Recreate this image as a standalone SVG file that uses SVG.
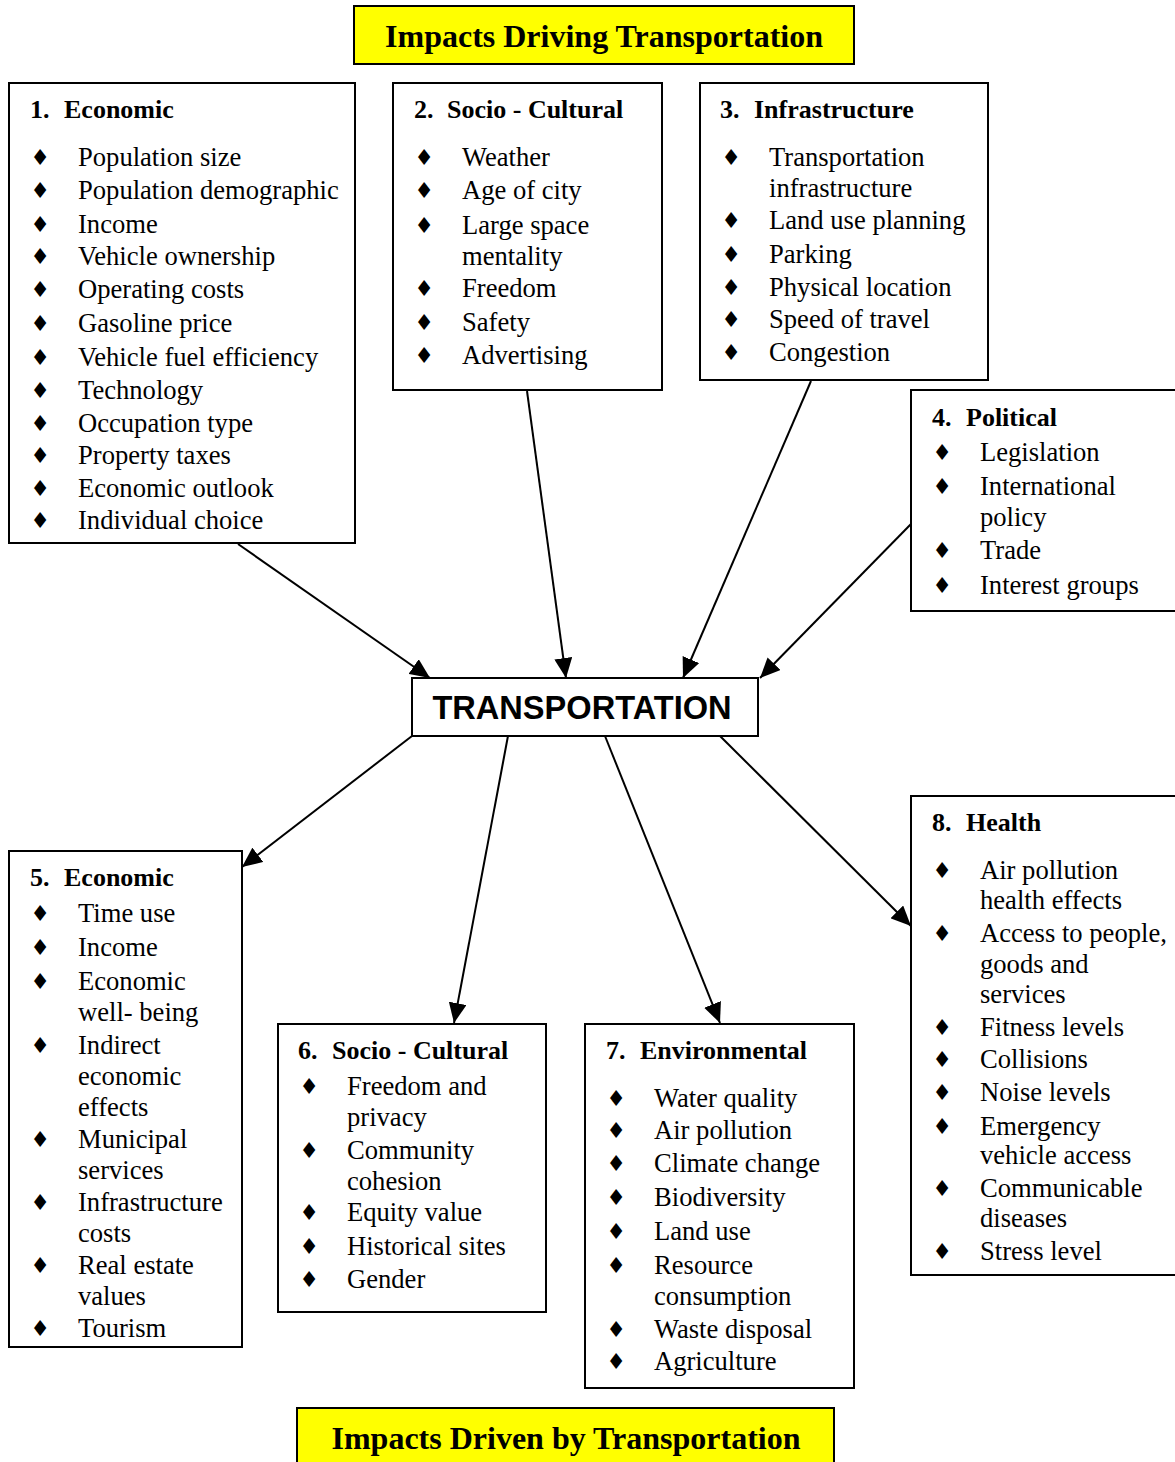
<svg xmlns="http://www.w3.org/2000/svg" width="1175" height="1462" viewBox="0 0 1175 1462">
<style>
.box{fill:#fff;stroke:#000;stroke-width:2}
.ybox{fill:#ffff00;stroke:#000;stroke-width:2}
.t{font-family:"Liberation Serif","Times New Roman",serif;font-size:26.6px;fill:#000}
.h{font-family:"Liberation Serif","Times New Roman",serif;font-size:26px;font-weight:bold;fill:#000}
.big{font-family:"Liberation Serif","Times New Roman",serif;font-size:32px;font-weight:bold;fill:#000;text-anchor:middle}
.tr{font-family:"Liberation Sans",Arial,sans-serif;font-size:32.6px;font-weight:bold;fill:#000;text-anchor:middle}
.b{font-family:"DejaVu Sans",sans-serif;font-size:22px;fill:#000;text-anchor:middle}
.c{stroke:#000;stroke-width:2;fill:none;marker-end:url(#ah)}
</style>
<defs>
<marker id="ah" markerUnits="userSpaceOnUse" markerWidth="22" markerHeight="18" refX="20" refY="9" orient="auto">
<path d="M0,0 L20,9 L0,18 Z" fill="#000"/>
</marker>
</defs>
<rect width="1175" height="1462" fill="#fff"/>

<g id="title-top">
<rect class="ybox" x="354" y="6" width="500" height="58"/>
<text class="big" x="604" y="47">Impacts Driving Transportation</text>
</g>

<g id="connectors">
<line class="c" x1="238" y1="544" x2="430" y2="678"/>
<line class="c" x1="527" y1="391" x2="566" y2="678"/>
<line class="c" x1="811" y1="381" x2="683" y2="678"/>
<line class="c" x1="911" y1="524" x2="760" y2="678"/>
<line class="c" x1="412" y1="736" x2="242" y2="867"/>
<line class="c" x1="508" y1="736" x2="454" y2="1023"/>
<line class="c" x1="605" y1="736" x2="720" y2="1023"/>
<line class="c" x1="720" y1="736" x2="911" y2="926"/>
</g>

<g id="box1">
<rect class="box" x="9" y="83" width="346" height="460"/>
<text class="h" x="30" y="118">1.</text><text class="h" x="64" y="118">Economic</text>
<text class="b" x="40" y="165">♦</text><text class="t" x="78" y="166">Population size</text>
<text class="b" x="40" y="198">♦</text><text class="t" x="78" y="199">Population demographic</text>
<text class="b" x="40" y="232">♦</text><text class="t" x="78" y="233">Income</text>
<text class="b" x="40" y="264">♦</text><text class="t" x="78" y="265">Vehicle ownership</text>
<text class="b" x="40" y="297">♦</text><text class="t" x="78" y="298">Operating costs</text>
<text class="b" x="40" y="331">♦</text><text class="t" x="78" y="332">Gasoline price</text>
<text class="b" x="40" y="365">♦</text><text class="t" x="78" y="366">Vehicle fuel efficiency</text>
<text class="b" x="40" y="398">♦</text><text class="t" x="78" y="399">Technology</text>
<text class="b" x="40" y="431">♦</text><text class="t" x="78" y="432">Occupation type</text>
<text class="b" x="40" y="463">♦</text><text class="t" x="78" y="464">Property taxes</text>
<text class="b" x="40" y="496">♦</text><text class="t" x="78" y="497">Economic outlook</text>
<text class="b" x="40" y="528">♦</text><text class="t" x="78" y="529">Individual choice</text>
</g>

<g id="box2">
<rect class="box" x="393" y="83" width="269" height="307"/>
<text class="h" x="414" y="118">2.</text><text class="h" x="447" y="118">Socio - Cultural</text>
<text class="b" x="424" y="165">♦</text><text class="t" x="462" y="166">Weather</text>
<text class="b" x="424" y="198">♦</text><text class="t" x="462" y="199">Age of city</text>
<text class="b" x="424" y="233">♦</text><text class="t" x="462" y="234">Large space</text>
<text class="t" x="462" y="265">mentality</text>
<text class="b" x="424" y="296">♦</text><text class="t" x="462" y="297">Freedom</text>
<text class="b" x="424" y="330">♦</text><text class="t" x="462" y="331">Safety</text>
<text class="b" x="424" y="363">♦</text><text class="t" x="462" y="364">Advertising</text>
</g>

<g id="box3">
<rect class="box" x="700" y="83" width="288" height="297"/>
<text class="h" x="720" y="118">3.</text><text class="h" x="754" y="118">Infrastructure</text>
<text class="b" x="731" y="165">♦</text><text class="t" x="769" y="166">Transportation</text>
<text class="t" x="769" y="197">infrastructure</text>
<text class="b" x="731" y="228">♦</text><text class="t" x="769" y="229">Land use planning</text>
<text class="b" x="731" y="262">♦</text><text class="t" x="769" y="263">Parking</text>
<text class="b" x="731" y="295">♦</text><text class="t" x="769" y="296">Physical location</text>
<text class="b" x="731" y="327">♦</text><text class="t" x="769" y="328">Speed of travel</text>
<text class="b" x="731" y="360">♦</text><text class="t" x="769" y="361">Congestion</text>
</g>

<g id="box4">
<rect class="box" x="911" y="390" width="270" height="221"/>
<text class="h" x="932" y="426">4.</text><text class="h" x="966" y="426">Political</text>
<text class="b" x="942" y="460">♦</text><text class="t" x="980" y="461">Legislation</text>
<text class="b" x="942" y="494">♦</text><text class="t" x="980" y="495">International</text>
<text class="t" x="980" y="526">policy</text>
<text class="b" x="942" y="558">♦</text><text class="t" x="980" y="559">Trade</text>
<text class="b" x="942" y="593">♦</text><text class="t" x="980" y="594">Interest groups</text>
</g>

<g id="transportation">
<rect class="box" x="412" y="678" width="346" height="58"/>
<text class="tr" x="582" y="719">TRANSPORTATION</text>
</g>

<g id="box5">
<rect class="box" x="9" y="851" width="233" height="496"/>
<text class="h" x="30" y="886">5.</text><text class="h" x="64" y="886">Economic</text>
<text class="b" x="40" y="921">♦</text><text class="t" x="78" y="922">Time use</text>
<text class="b" x="40" y="955">♦</text><text class="t" x="78" y="956">Income</text>
<text class="b" x="40" y="989">♦</text><text class="t" x="78" y="990">Economic</text>
<text class="t" x="78" y="1021">well- being</text>
<text class="b" x="40" y="1053">♦</text><text class="t" x="78" y="1054">Indirect</text>
<text class="t" x="78" y="1085">economic</text>
<text class="t" x="78" y="1116">effects</text>
<text class="b" x="40" y="1147">♦</text><text class="t" x="78" y="1148">Municipal</text>
<text class="t" x="78" y="1179">services</text>
<text class="b" x="40" y="1210">♦</text><text class="t" x="78" y="1211">Infrastructure</text>
<text class="t" x="78" y="1242">costs</text>
<text class="b" x="40" y="1273">♦</text><text class="t" x="78" y="1274">Real estate</text>
<text class="t" x="78" y="1305">values</text>
<text class="b" x="40" y="1336">♦</text><text class="t" x="78" y="1337">Tourism</text>
</g>

<g id="box6">
<rect class="box" x="278" y="1024" width="268" height="288"/>
<text class="h" x="298" y="1059">6.</text><text class="h" x="332" y="1059">Socio - Cultural</text>
<text class="b" x="309" y="1094">♦</text><text class="t" x="347" y="1095">Freedom and</text>
<text class="t" x="347" y="1126">privacy</text>
<text class="b" x="309" y="1158">♦</text><text class="t" x="347" y="1159">Community</text>
<text class="t" x="347" y="1190">cohesion</text>
<text class="b" x="309" y="1220">♦</text><text class="t" x="347" y="1221">Equity value</text>
<text class="b" x="309" y="1254">♦</text><text class="t" x="347" y="1255">Historical sites</text>
<text class="b" x="309" y="1287">♦</text><text class="t" x="347" y="1288">Gender</text>
</g>

<g id="box7">
<rect class="box" x="585" y="1024" width="269" height="364"/>
<text class="h" x="606" y="1059">7.</text><text class="h" x="640" y="1059">Environmental</text>
<text class="b" x="616" y="1106">♦</text><text class="t" x="654" y="1107">Water quality</text>
<text class="b" x="616" y="1138">♦</text><text class="t" x="654" y="1139">Air pollution</text>
<text class="b" x="616" y="1171">♦</text><text class="t" x="654" y="1172">Climate change</text>
<text class="b" x="616" y="1205">♦</text><text class="t" x="654" y="1206">Biodiversity</text>
<text class="b" x="616" y="1239">♦</text><text class="t" x="654" y="1240">Land use</text>
<text class="b" x="616" y="1273">♦</text><text class="t" x="654" y="1274">Resource</text>
<text class="t" x="654" y="1305">consumption</text>
<text class="b" x="616" y="1337">♦</text><text class="t" x="654" y="1338">Waste disposal</text>
<text class="b" x="616" y="1369">♦</text><text class="t" x="654" y="1370">Agriculture</text>
</g>

<g id="box8">
<rect class="box" x="911" y="796" width="270" height="479"/>
<text class="h" x="932" y="831">8.</text><text class="h" x="966" y="831">Health</text>
<text class="b" x="942" y="878">♦</text><text class="t" x="980" y="879">Air pollution</text>
<text class="t" x="980" y="909">health effects</text>
<text class="b" x="942" y="941">♦</text><text class="t" x="980" y="942">Access to people,</text>
<text class="t" x="980" y="973">goods and</text>
<text class="t" x="980" y="1003">services</text>
<text class="b" x="942" y="1035">♦</text><text class="t" x="980" y="1036">Fitness levels</text>
<text class="b" x="942" y="1067">♦</text><text class="t" x="980" y="1068">Collisions</text>
<text class="b" x="942" y="1100">♦</text><text class="t" x="980" y="1101">Noise levels</text>
<text class="b" x="942" y="1134">♦</text><text class="t" x="980" y="1135">Emergency</text>
<text class="t" x="980" y="1164">vehicle access</text>
<text class="b" x="942" y="1196">♦</text><text class="t" x="980" y="1197">Communicable</text>
<text class="t" x="980" y="1227">diseases</text>
<text class="b" x="942" y="1259">♦</text><text class="t" x="980" y="1260">Stress level</text>
</g>

<g id="title-bottom">
<rect class="ybox" x="297" y="1408" width="537" height="60"/>
<text class="big" x="566" y="1449">Impacts Driven by Transportation</text>
</g>
</svg>
